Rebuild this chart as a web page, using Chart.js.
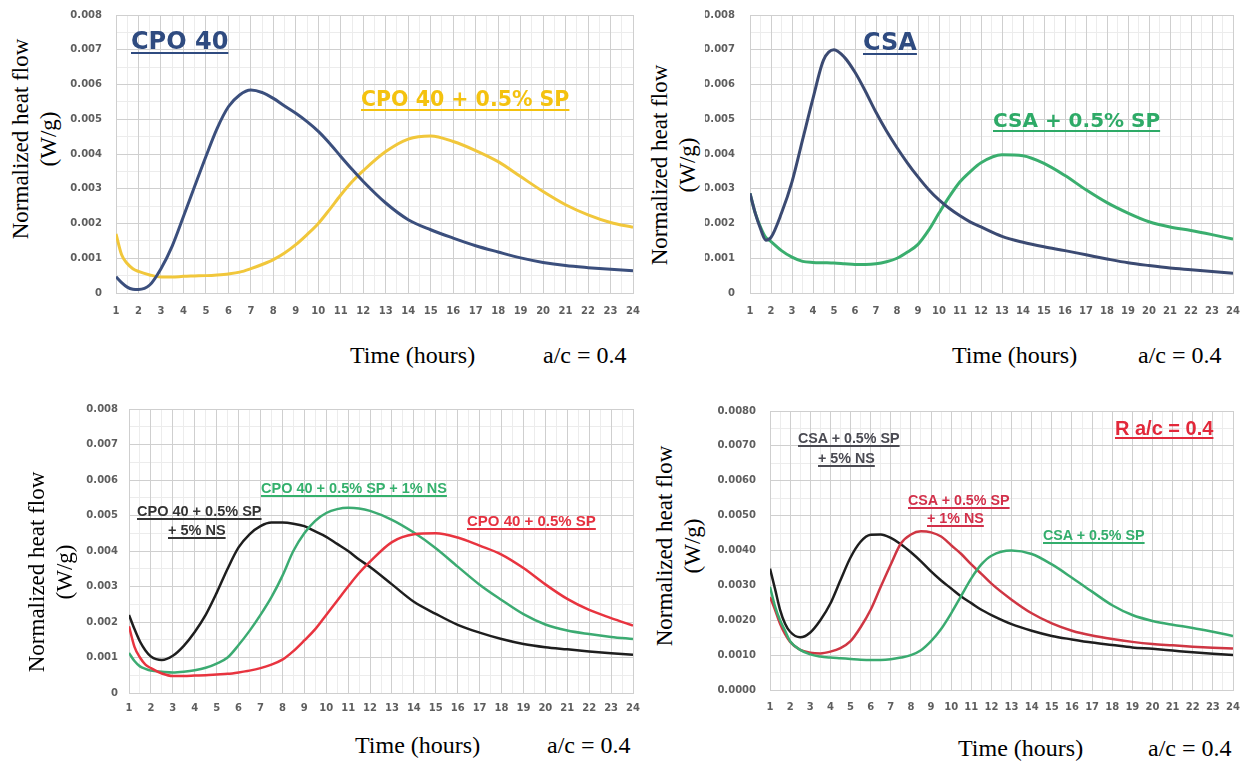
<!DOCTYPE html>
<html>
<head>
<meta charset="utf-8">
<script src="https://cdn.jsdelivr.net/npm/chart.js@4/dist/chart.umd.min.js"></script>
<style>
  html, body { margin: 0; background: #fff; }
  body { width: 1248px; height: 761px; position: relative; overflow: hidden; }
  canvas { position: absolute; }
  .t { position: absolute; white-space: pre; line-height: 1; }
  .big { font-family: "DejaVu Sans"; font-weight: bold; text-decoration: underline; text-decoration-thickness: 2px; text-underline-offset: 3px; }
  .sm { font-family: "Liberation Sans"; font-weight: bold; text-decoration: underline; text-decoration-thickness: 1.5px; text-underline-offset: 2px; }
  .xt { position: absolute; font-family: "Liberation Serif"; font-size: 24px; line-height: 24px; white-space: pre; color: #000; }
  .yt { position: absolute; width: 220px; height: 56px; line-height: 28px; text-align: center;
        font-family: "Liberation Serif"; font-size: 23px; color: #000; transform: rotate(-90deg); }
</style>
</head>
<body>
<canvas id="p1"></canvas>
<canvas id="p2"></canvas>
<canvas id="p3"></canvas>
<canvas id="p4"></canvas>

<!-- y titles -->
<div class="yt" style="left:-75px;top:111px">Normalized heat flow<br>(W/g)</div>
<div class="yt" style="left:564px;top:137px">Normalized heat flow<br>(W/g)</div>
<div class="yt" style="left:-59px;top:544px">Normalized heat flow<br>(W/g)</div>
<div class="yt" style="left:569px;top:518px">Normalized heat flow<br>(W/g)</div>

<!-- x titles -->
<div class="xt" style="left:350px;top:343px">Time (hours)</div>
<div class="xt" style="left:543px;top:343px">a/c = 0.4</div>
<div class="xt" style="left:952px;top:343px">Time (hours)</div>
<div class="xt" style="left:1138px;top:343px">a/c = 0.4</div>
<div class="xt" style="left:355px;top:733px">Time (hours)</div>
<div class="xt" style="left:547px;top:733px">a/c = 0.4</div>
<div class="xt" style="left:958px;top:736px">Time (hours)</div>
<div class="xt" style="left:1148px;top:736px">a/c = 0.4</div>

<!-- curve labels -->
<div class="t big" style="left:131px;top:29px;font-size:24px;color:#2f4b80">CPO 40</div>
<div class="t big" style="left:361px;top:89px;font-size:20.5px;color:#f4c20f">CPO 40 + 0.5% SP</div>
<div class="t big" style="left:863px;top:30px;font-size:24px;color:#2f4b80">CSA</div>
<div class="t big" style="left:993px;top:110px;font-size:20px;color:#2eaa67">CSA + 0.5% SP</div>

<div class="t sm" style="left:137px;top:504px;font-size:14.5px;color:#333">CPO 40 + 0.5% SP</div>
<div class="t sm" style="left:168px;top:523px;font-size:14.5px;color:#333">+ 5% NS</div>
<div class="t sm" style="left:261px;top:481px;font-size:14.5px;color:#34b06c">CPO 40 + 0.5% SP + 1% NS</div>
<div class="t sm" style="left:467px;top:513px;font-size:15px;color:#e5303f">CPO 40 + 0.5% SP</div>

<div class="t sm" style="left:798px;top:431px;font-size:14.3px;color:#4a4a52">CSA + 0.5% SP</div>
<div class="t sm" style="left:818px;top:451px;font-size:14.3px;color:#4a4a52">+ 5% NS</div>
<div class="t sm" style="left:1115px;top:418px;font-size:20px;color:#e2283a;text-decoration-thickness:2px">R a/c = 0.4</div>
<div class="t sm" style="left:908px;top:493px;font-size:14.3px;color:#d2304a">CSA + 0.5% SP</div>
<div class="t sm" style="left:927px;top:511px;font-size:14.3px;color:#d2304a">+ 1% NS</div>
<div class="t sm" style="left:1043px;top:528px;font-size:14.3px;color:#33ad6c">CSA + 0.5% SP</div>

<script>
/* ---------- données (W/g) ---------- */
const HOURS = [1, 1.25, 1.5, 1.75, 2, 2.5, 3, 3.5, 4, 4.5, 5, 5.5, 6, 6.5, 7, 7.5, 8, 8.5, 9, 9.5,
  10, 10.5, 11, 11.5, 12, 13, 14, 15, 16, 17, 18, 19, 20, 21, 22, 23, 24];

// haut gauche
const CPO40 = [0.00047, 0.0003, 0.00017, 0.00011, 0.0001, 0.00023, 0.0007, 0.00135, 0.0022, 0.00307,
  0.00393, 0.00474, 0.00536, 0.0057, 0.00584, 0.00577, 0.0056, 0.00538, 0.00517, 0.00493,
  0.00465, 0.00431, 0.00393, 0.00356, 0.00321, 0.00259, 0.00211, 0.00182, 0.00158, 0.00136,
  0.00118, 0.00101, 0.00088, 0.00079, 0.00073, 0.00068, 0.00064];
const CPO40_SP = [0.0017, 0.0011, 0.00085, 0.0007, 0.00062, 0.00052, 0.00046, 0.00046, 0.00048, 0.00049,
  0.0005, 0.00052, 0.00055, 0.0006, 0.0007, 0.00082, 0.00096, 0.00115, 0.00139, 0.00168,
  0.002, 0.0024, 0.00282, 0.0032, 0.00352, 0.00407, 0.00443, 0.00452, 0.00436, 0.0041,
  0.00378, 0.00335, 0.00292, 0.00254, 0.00225, 0.00203, 0.00189];

// haut droite
const CSA = [0.00287, 0.0023, 0.00185, 0.00152, 0.0016, 0.0023, 0.0032, 0.0044, 0.0056, 0.0067,
  0.007, 0.00678, 0.00635, 0.0058, 0.0052, 0.00466, 0.00418, 0.00374, 0.00334, 0.00298,
  0.00268, 0.00243, 0.00222, 0.00204, 0.0019, 0.00163, 0.00146, 0.00133, 0.00122, 0.0011,
  0.00098, 0.00087, 0.00079, 0.00072, 0.00067, 0.00062, 0.00057];
const CSA_SP = [0.00287, 0.0023, 0.0019, 0.0016, 0.00148, 0.00122, 0.00103, 0.00091, 0.00088, 0.00087,
  0.00086, 0.00084, 0.00082, 0.00082, 0.00084, 0.0009, 0.001, 0.00118, 0.0014, 0.0018,
  0.0023, 0.00278, 0.0032, 0.0035, 0.00375, 0.00398, 0.00395, 0.00373, 0.00338, 0.00297,
  0.0026, 0.0023, 0.00205, 0.0019, 0.0018, 0.00168, 0.00155];

// bas gauche
const CPO40_SP_NS5 = [0.0022, 0.0018, 0.00145, 0.0012, 0.00103, 0.00093, 0.00105, 0.00133, 0.00172, 0.0022,
  0.00282, 0.0035, 0.0041, 0.00447, 0.0047, 0.0048, 0.0048, 0.00477, 0.0047, 0.00455,
  0.0044, 0.0042, 0.004, 0.00376, 0.00355, 0.00306, 0.00257, 0.00223, 0.00192, 0.0017,
  0.00152, 0.00138, 0.00129, 0.00123, 0.00117, 0.00112, 0.00108];
const CPO40_SP_NS1 = [0.00113, 0.0009, 0.00075, 0.00068, 0.00063, 0.0006, 0.00058, 0.0006, 0.00064, 0.00071,
  0.00083, 0.001, 0.00135, 0.00175, 0.0022, 0.0027, 0.0033, 0.004, 0.0045, 0.00485,
  0.00507, 0.00518, 0.00522, 0.0052, 0.00513, 0.00488, 0.00452, 0.00408, 0.00356, 0.00305,
  0.00262, 0.00222, 0.00193, 0.00176, 0.00166, 0.00158, 0.00152];
const CPO40_SP_REF = [0.00188, 0.0013, 0.001, 0.0008, 0.0007, 0.00055, 0.00048, 0.00048, 0.00049, 0.0005,
  0.00052, 0.00054, 0.00058, 0.00063, 0.0007, 0.0008, 0.00094, 0.00118, 0.00148, 0.0018,
  0.0022, 0.0026, 0.003, 0.00338, 0.0037, 0.00425, 0.00447, 0.0045, 0.00438, 0.00415,
  0.0039, 0.00352, 0.00306, 0.00265, 0.00234, 0.00211, 0.0019];

// bas droite
const CSA_SP_NS5 = [0.00348, 0.0029, 0.0023, 0.0019, 0.00167, 0.00151, 0.00165, 0.002, 0.00248, 0.00315,
  0.0038, 0.00425, 0.00445, 0.00446, 0.00436, 0.00418, 0.00395, 0.00369, 0.0034, 0.00314,
  0.00291, 0.00268, 0.00249, 0.0023, 0.00215, 0.00189, 0.0017, 0.00155, 0.00145, 0.00136,
  0.00129, 0.00122, 0.00118, 0.00113, 0.00108, 0.00104, 0.001];
const CSA_SP_NS1 = [0.00267, 0.0023, 0.0019, 0.0016, 0.00138, 0.00115, 0.00107, 0.00105, 0.0011, 0.0012,
  0.0014, 0.0018, 0.0023, 0.00296, 0.0036, 0.0042, 0.00446, 0.00455, 0.00452, 0.0044,
  0.00415, 0.0039, 0.0036, 0.00333, 0.00305, 0.00259, 0.0022, 0.00191, 0.0017, 0.00156,
  0.00146, 0.00138, 0.00132, 0.00128, 0.00124, 0.00121, 0.00119];
const CSA_SP_REF = [0.00296, 0.0024, 0.002, 0.0017, 0.0014, 0.00115, 0.00102, 0.00096, 0.00093, 0.00091,
  0.00089, 0.00087, 0.00086, 0.00086, 0.00088, 0.00093, 0.001, 0.00114, 0.0014, 0.00175,
  0.0022, 0.0027, 0.0032, 0.0036, 0.00385, 0.004, 0.0039, 0.0036, 0.00322, 0.00282,
  0.00243, 0.00215, 0.00198, 0.00187, 0.00178, 0.00167, 0.00155];

const Y_MAX = 0.008;
const Y_STEP = 0.001;

/* ---------- style ---------- */
const GRID = "#cfcfcf";
const GRID_MINOR = "#ececec";
const TICK_COLOR = "#5e5e5e";
const TICK_FONT = { family: "DejaVu Sans", weight: "bold", size: 10 };
Chart.defaults.animation = false;

const noPad = (s) => { s.paddingTop = s.paddingBottom = s.paddingLeft = s.paddingRight = 0; };
const pts = (arr) => HOURS.map((h, i) => ({ x: h, y: arr[i] }));
const line = (arr, color, w) => ({
  data: pts(arr), borderColor: color, borderWidth: w, pointRadius: 0, fill: false,
  cubicInterpolationMode: "monotone",
});

function panel(id, area, yW, yPad, xPad, digits, datasets) {
  // area = zone de tracé voulue en px de page
  const cv = document.getElementById(id);
  const left = area.l - yW, top = area.t - 10;
  const w = area.r + 12 - left, h = area.b + 30 - top;
  cv.width = w; cv.height = h;
  cv.style.left = left + "px"; cv.style.top = top + "px";
  cv.style.width = w + "px"; cv.style.height = h + "px";

  return new Chart(cv, {
    type: "line",
    data: { datasets },
    options: {
      responsive: false, devicePixelRatio: 1,
      layout: { padding: { top: 10, right: 12, left: 0, bottom: 0 } },
      plugins: { legend: { display: false }, tooltip: { enabled: false } },
      scales: {
        xMinor: {
          type: "linear", position: "bottom", min: 1, max: 24,
          ticks: { display: false, stepSize: 0.5 },
          grid: { drawTicks: false, color: (c) => (c.tick && c.tick.value % 1 ? GRID_MINOR : "rgba(0,0,0,0)") },
          border: { display: false },
          afterFit: (s) => { s.height = 0; noPad(s); },
        },
        yMinor: {
          type: "linear", position: "left", min: 0, max: Y_MAX,
          ticks: { display: false, stepSize: Y_STEP / 2 },
          grid: { drawTicks: false, color: (c) => (c.tick && Math.round(c.tick.value * 10000) % 10 ? GRID_MINOR : "rgba(0,0,0,0)") },
          border: { display: false },
          afterFit: (s) => { s.width = 0; noPad(s); },
        },
        x: {
          type: "linear", position: "bottom", min: 1, max: 24,
          ticks: { stepSize: 1, padding: xPad, color: TICK_COLOR, font: TICK_FONT, maxRotation: 0, autoSkip: false },
          grid: { color: GRID, drawTicks: false },
          border: { color: GRID },
          afterFit: (s) => { s.height = 30; noPad(s); },
        },
        y: {
          type: "linear", position: "left", min: 0, max: Y_MAX,
          ticks: {
            stepSize: Y_STEP, padding: yPad, color: TICK_COLOR, font: TICK_FONT,
            callback: (v) => (digits === 3 && v === 0 ? "0" : v.toFixed(digits)),
          },
          grid: { color: GRID, drawTicks: false },
          border: { color: GRID },
          afterFit: (s) => { s.width = yW; noPad(s); },
        },
      },
    },
  });
}

panel("p1", { l: 116, t: 15, r: 633, b: 293 }, 50, 14, 12, 3, [
  line(CPO40, "#3b4f7d", 3),
  line(CPO40_SP, "#f1c73b", 3),
]);
panel("p2", { l: 750, t: 15, r: 1233, b: 293 }, 45, 15, 12, 3, [
  line(CSA, "#3b4a72", 3),
  line(CSA_SP, "#3aae6e", 3),
]);
panel("p3", { l: 129, t: 409, r: 633, b: 693 }, 59, 11, 9, 3, [
  line(CPO40_SP_REF, "#e8343f", 2.5),
  line(CPO40_SP_NS1, "#3cab72", 2.5),
  line(CPO40_SP_NS5, "#1e1e1e", 2.5),
]);
panel("p4", { l: 770, t: 411, r: 1233, b: 690 }, 58, 14, 11, 4, [
  line(CSA_SP_REF, "#3aab70", 2.5),
  line(CSA_SP_NS1, "#cf3643", 2.5),
  line(CSA_SP_NS5, "#1e1e1e", 2.5),
]);
</script>
</body>
</html>
